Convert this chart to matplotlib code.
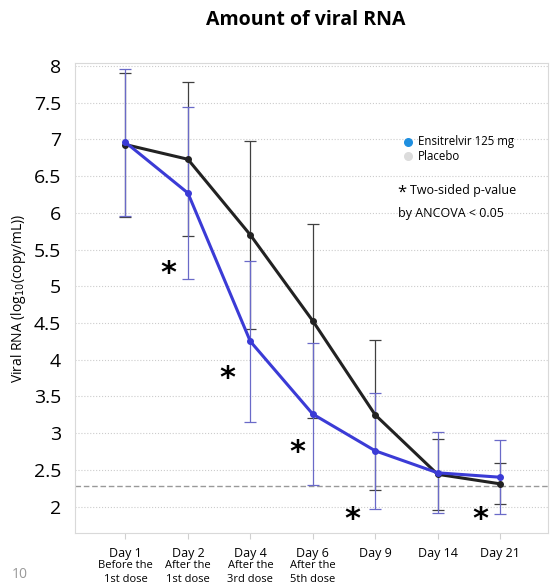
import matplotlib.pyplot as plt
import matplotlib.transforms as mtransforms

plt.rcParams['font.family'] = ['Open Sans', 'DejaVu Sans']

# ------ data
days = ['Day 1', 'Day 2', 'Day 4', 'Day 6', 'Day 9', 'Day 14', 'Day 21']
dose_notes = ['Before the\n1st dose', 'After the\n1st dose', 'After the\n3rd dose',
              'After the\n5th dose', '', '', '']
ensitrelvir_mean = [6.96, 6.27, 4.25, 3.26, 2.76, 2.46, 2.40]
ensitrelvir_sd = [1.00, 1.17, 1.10, 0.97, 0.79, 0.55, 0.50]
placebo_mean = [6.93, 6.73, 5.70, 4.53, 3.25, 2.44, 2.31]
placebo_sd = [0.98, 1.05, 1.28, 1.32, 1.02, 0.48, 0.28]
lloq = 2.28
star_x = [0.68, 1.64, 2.75, 3.64, 5.69]
star_y = [5.17, 3.74, 2.73, 1.83, 1.83]

x = list(range(len(days)))

fig = plt.figure(figsize=(5.51, 5.84), dpi=100)
ax = fig.add_axes([0.136, 0.0873, 0.8586, 0.8047])

# error bars
ax.errorbar(x, placebo_mean, yerr=placebo_sd, fmt='none', ecolor='#404040',
            elinewidth=0.9, capsize=4, capthick=0.9, zorder=2)
ax.errorbar(x, ensitrelvir_mean, yerr=ensitrelvir_sd, fmt='none', ecolor='#6a6ac8',
            elinewidth=0.9, capsize=4, capthick=0.9, zorder=3)

# mean lines
ax.plot(x, placebo_mean, color='#222222', lw=2.2, marker='o', ms=4, zorder=4)
ax.plot(x, ensitrelvir_mean, color='#3b3bd6', lw=2.2, marker='o', ms=4, zorder=5)

ax.axhline(lloq, color='#999999', lw=1, ls=(0, (4, 2)), zorder=1)

for sx, sy in zip(star_x, star_y):
    ax.text(sx, sy, '*', fontsize=22, fontweight='bold', ha='center', va='center',
            family='DejaVu Sans')

ax.set_xlim(-0.81, 6.77)
ax.set_ylim(1.64, 8.04)
ax.set_yticks([2, 2.5, 3, 3.5, 4, 4.5, 5, 5.5, 6, 6.5, 7, 7.5, 8])
ax.set_yticklabels(['2', '2.5', '3', '3.5', '4', '4.5', '5', '5.5', '6', '6.5', '7', '7.5', '8'],
                   fontsize=14)
ax.set_xticks(x)
ax.set_xticklabels(days, fontsize=9)
ax.tick_params(axis='y', length=0, pad=10)
ax.tick_params(axis='x', length=4, color='#d0d0d0', pad=6)
ax.grid(axis='y', color='#cccccc', ls=':', lw=0.8)
for s in ax.spines.values():
    s.set_color('#d9d9d9')

trans = mtransforms.blended_transform_factory(ax.transData, ax.transAxes)
for xi, note in zip(x, dose_notes):
    if note:
        ax.text(xi, -0.058, note, transform=trans, ha='center', va='top',
                fontsize=8, linespacing=1.3)

ax.set_ylabel('Viral RNA (log$_{10}$(copy/mL))', fontsize=10, labelpad=4)
fig.text(0.555, 0.965, 'Amount of viral RNA', ha='center', va='center',
         fontsize=14, fontweight='bold')

# legend
ax.scatter([4.52], [6.97], s=30, color='#1f8fe0', zorder=6)
ax.scatter([4.52], [6.77], s=30, color='#dcdcdc', zorder=6)
ax.text(4.69, 6.97, 'Ensitrelvir 125 mg', fontsize=8.3, va='center')
ax.text(4.69, 6.77, 'Placebo', fontsize=8.3, va='center')
ax.text(4.36, 6.28, '*', fontsize=12, va='center')
ax.text(4.56, 6.31, 'Two-sided p-value', fontsize=9, va='center')
ax.text(4.36, 5.99, 'by ANCOVA < 0.05', fontsize=9, va='center')

fig.text(0.022, 0.01, '10', fontsize=10, color='#999999')

fig.savefig('out.png', dpi=100)
